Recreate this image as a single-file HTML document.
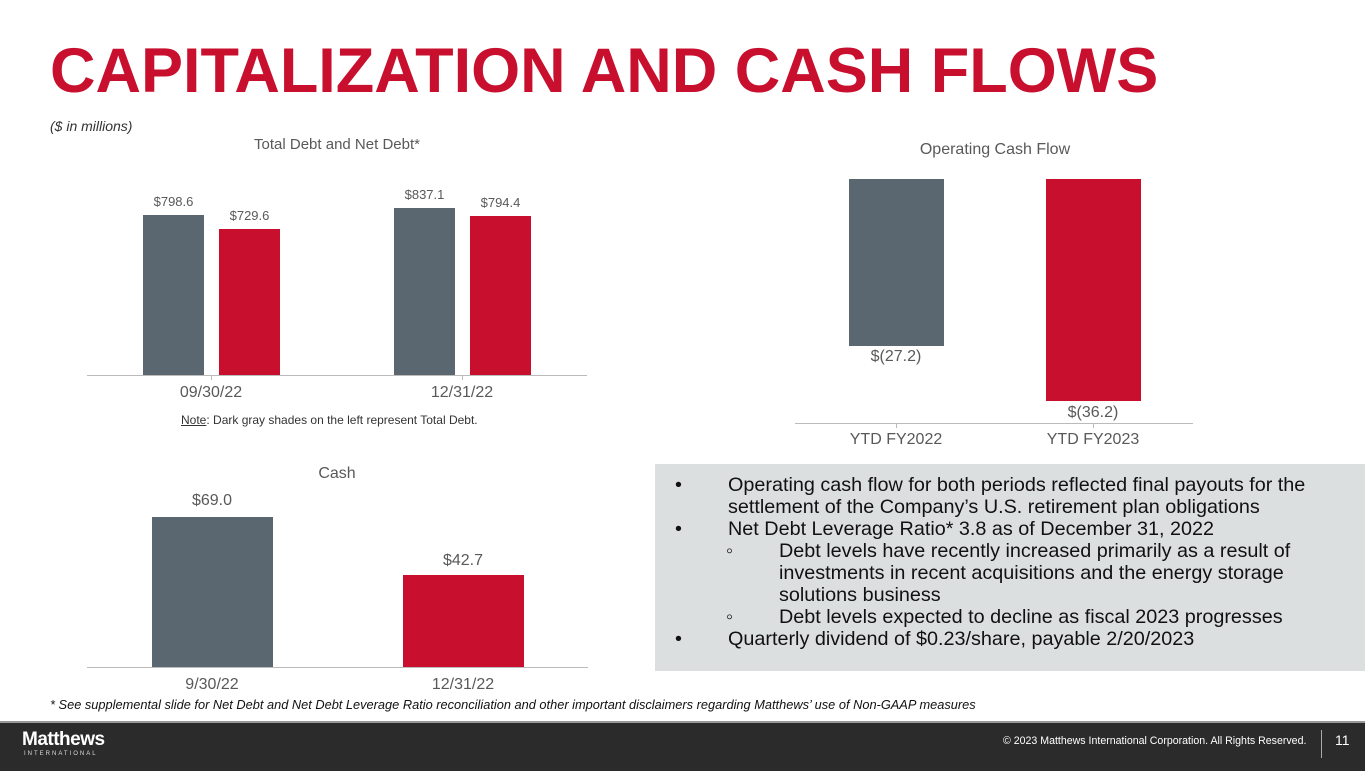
<!DOCTYPE html>
<html><head><style>
body{margin:0;width:1365px;height:769px;position:relative;overflow:hidden;background:#fff;font-family:"Liberation Sans",Arial,sans-serif;}
div{position:absolute;}
.t{white-space:nowrap;}
.g{background:#5b6770;}
.r{background:#c8102e;}
.lab{color:#595959;text-align:center;}
</style></head><body>
<div class="t" style="left:50px;top:36px;font-size:63px;font-weight:bold;color:#c8102e;line-height:70px;">CAPITALIZATION AND CASH FLOWS</div>
<div class="t" style="left:50px;top:118px;font-size:14px;font-style:italic;color:#333;">($ in millions)</div>

<div class="t lab" style="left:87px;width:500px;top:136px;font-size:15px;">Total Debt and Net Debt*</div>
<div class="g" style="left:143px;top:215px;width:61px;height:160px;"></div>
<div class="r" style="left:219px;top:229px;width:61px;height:146px;"></div>
<div class="g" style="left:394px;top:208px;width:61px;height:167px;"></div>
<div class="r" style="left:470px;top:216px;width:61px;height:159px;"></div>
<div class="t lab" style="left:133px;width:81px;top:194px;font-size:13px;">$798.6</div>
<div class="t lab" style="left:209px;width:81px;top:208px;font-size:13px;">$729.6</div>
<div class="t lab" style="left:384px;width:81px;top:187px;font-size:13px;">$837.1</div>
<div class="t lab" style="left:460px;width:81px;top:195px;font-size:13px;">$794.4</div>
<div style="left:87px;top:375px;width:500px;height:1px;background:#bbb;"></div>
<div style="left:211px;top:375px;width:1px;height:5px;background:#bbb;"></div>
<div style="left:462px;top:375px;width:1px;height:5px;background:#bbb;"></div>
<div class="t lab" style="left:111px;width:200px;top:384px;font-size:16px;">09/30/22</div>
<div class="t lab" style="left:362px;width:200px;top:384px;font-size:16px;">12/31/22</div>
<div class="t" style="left:181px;top:413px;font-size:12px;color:#333;"><u>Note</u>: Dark gray shades on the left represent Total Debt.</div>

<div class="t lab" style="left:795px;width:400px;top:141px;font-size:16px;">Operating Cash Flow</div>
<div class="g" style="left:849px;top:179px;width:95px;height:167px;"></div>
<div class="r" style="left:1046px;top:179px;width:95px;height:222px;"></div>
<div class="t lab" style="left:846px;width:100px;top:348px;font-size:16px;">$(27.2)</div>
<div class="t lab" style="left:1043px;width:100px;top:404px;font-size:16px;">$(36.2)</div>
<div style="left:795px;top:423px;width:398px;height:1px;background:#bbb;"></div>
<div style="left:896px;top:423px;width:1px;height:5px;background:#bbb;"></div>
<div style="left:1093px;top:423px;width:1px;height:5px;background:#bbb;"></div>
<div class="t lab" style="left:796px;width:200px;top:431px;font-size:16px;">YTD FY2022</div>
<div class="t lab" style="left:993px;width:200px;top:431px;font-size:16px;">YTD FY2023</div>

<div class="t lab" style="left:87px;width:500px;top:465px;font-size:16px;">Cash</div>
<div class="g" style="left:152px;top:517px;width:121px;height:150px;"></div>
<div class="r" style="left:403px;top:575px;width:121px;height:92px;"></div>
<div class="t lab" style="left:162px;width:100px;top:492px;font-size:16px;">$69.0</div>
<div class="t lab" style="left:413px;width:100px;top:552px;font-size:16px;">$42.7</div>
<div style="left:87px;top:667px;width:501px;height:1px;background:#bbb;"></div>
<div class="t lab" style="left:112px;width:200px;top:676px;font-size:16px;">9/30/22</div>
<div class="t lab" style="left:363px;width:200px;top:676px;font-size:16px;">12/31/22</div>

<div style="left:655px;top:464px;width:710px;height:207px;background:#dcdfe0;"></div>
<div style="left:675px;top:474px;font-size:19.8px;line-height:22px;color:#111;">
<div class="t" style="left:0;top:0">•</div><div class="t" style="left:53px;top:0">Operating cash flow for both periods reflected final payouts for the</div>
<div class="t" style="left:53px;top:22px">settlement of the Company’s U.S. retirement plan obligations</div>
<div class="t" style="left:0;top:44px">•</div><div class="t" style="left:53px;top:44px">Net Debt Leverage Ratio* 3.8 as of December 31, 2022</div>
<div class="t" style="left:51px;top:66px">◦</div><div class="t" style="left:104px;top:66px">Debt levels have recently increased primarily as a result of</div>
<div class="t" style="left:104px;top:88px">investments in recent acquisitions and the energy storage</div>
<div class="t" style="left:104px;top:110px">solutions business</div>
<div class="t" style="left:51px;top:132px">◦</div><div class="t" style="left:104px;top:132px">Debt levels expected to decline as fiscal 2023 progresses</div>
<div class="t" style="left:0;top:154px">•</div><div class="t" style="left:53px;top:154px">Quarterly dividend of $0.23/share, payable 2/20/2023</div>
</div>

<div class="t" style="left:50px;top:697px;font-size:12.8px;font-style:italic;color:#111;">* See supplemental slide for Net Debt and Net Debt Leverage Ratio reconciliation and other important disclaimers regarding Matthews’ use of Non-GAAP measures</div>

<div style="left:0;top:721px;width:1365px;height:48px;background:#2b2b2b;border-top:2px solid #999;"></div>
<div class="t" style="left:22px;top:729px;font-size:19px;font-weight:bold;color:#fff;letter-spacing:-0.5px;">Matthews</div>
<div class="t" style="left:24px;top:751px;font-size:6px;color:#ddd;letter-spacing:2px;">INTERNATIONAL</div>
<div class="t" style="left:1003px;top:735px;font-size:10.6px;color:#fff;">© 2023 Matthews International Corporation. All Rights Reserved.</div>
<div style="left:1321px;top:730px;width:1px;height:28px;background:#aaa;"></div>
<div class="t" style="left:1335px;top:732px;font-size:14px;color:#fff;">11</div>
</body></html>
